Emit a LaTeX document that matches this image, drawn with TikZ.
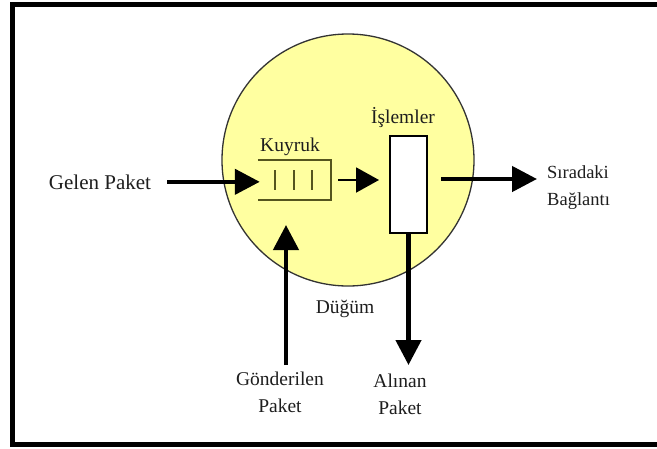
\documentclass[tikz,border=0pt]{standalone}
\usepackage{fontspec}
\setmainfont{Liberation Serif}
\usetikzlibrary{arrows.meta}
\definecolor{nodefill}{RGB}{255,255,160}
\definecolor{queueline}{RGB}{85,85,30}
\definecolor{ink}{RGB}{30,30,30}
\begin{document}
\begin{tikzpicture}[x=1pt,y=-1pt,
  lbl/.style={inner sep=0pt, text=ink, font=\fontsize{19.5}{27}\selectfont},
  heavy/.style={line width=4.5pt, -{Triangle[length=25pt,width=25pt]}},
  light/.style={line width=2pt, -{Triangle[length=23pt,width=25pt]}},
  qline/.style={draw=queueline, line width=2pt},
]
\useasboundingbox (0,0) rectangle (657,448);
\fill[white] (0,0) rectangle (657,448);
% outer frame, open to the right
\draw[line width=5pt] (662,4) -- (12,4) -- (12,444) -- (662,444);

% the node (circle)
\node[circle, draw=black!80, line width=1.3pt, fill=nodefill,
      minimum size=252pt, inner sep=0pt] (node) at (348,160) {};
\node[lbl, anchor=base] (dugum) at (345,313) {Düğüm};

% queue: open on the left, three slots
\node[minimum width=73pt, minimum height=39pt, inner sep=0pt] (queue) at (294.5,180) {};
\draw[qline] (queue.north west) -- (queue.north east) -- (queue.south east) -- (queue.south west);
\foreach \x in {275,294,312} \draw[qline] (\x,170) -- (\x,190);
\node[lbl, anchor=base] (kuyruk) at (290,151) {Kuyruk};

% processing box
\node[draw, line width=2pt, fill=white, minimum width=37pt, minimum height=97pt,
      inner sep=0pt] (islem) at (408.5,184.5) {};
\node[lbl, anchor=base] (islemler) at (403,123) {İşlemler};

% incoming packets
\node[lbl, anchor=base, font=\fontsize{21}{27}\selectfont] (gelen) at (100,189) {Gelen Paket};
\draw[heavy, shorten <=16pt, shorten >=-2pt] (gelen.east) -- (gelen.east -| queue.west);

% queue to processing
\draw[light, shorten <=7pt, shorten >=10pt] (queue.east) -- (queue.east -| islem.west);

% next link
\node[lbl, anchor=north west, align=left, font=\fontsize{18.5}{27}\selectfont]
      (sirada) at (547,165.5) {Sıradaki\\Bağlantı};
\coordinate (outTip) at (537,179);
\draw[heavy, shorten <=13pt] (islem.east |- outTip) -- (outTip);

% received packets
\node[lbl, anchor=north, align=center] (alinan) at (400,373.7) {Alınan\\Paket};
\draw[heavy, shorten >=8.7pt] (islem.south) -- (islem.south |- alinan.north);

% sent packets
\node[lbl, anchor=north, align=center] (gonder) at (280,371.5) {Gönderilen\\Paket};
\coordinate (upTip) at (286,225);
\draw[heavy, shorten <=6.5pt] (gonder.north -| upTip) -- (upTip);
\end{tikzpicture}
\end{document}
